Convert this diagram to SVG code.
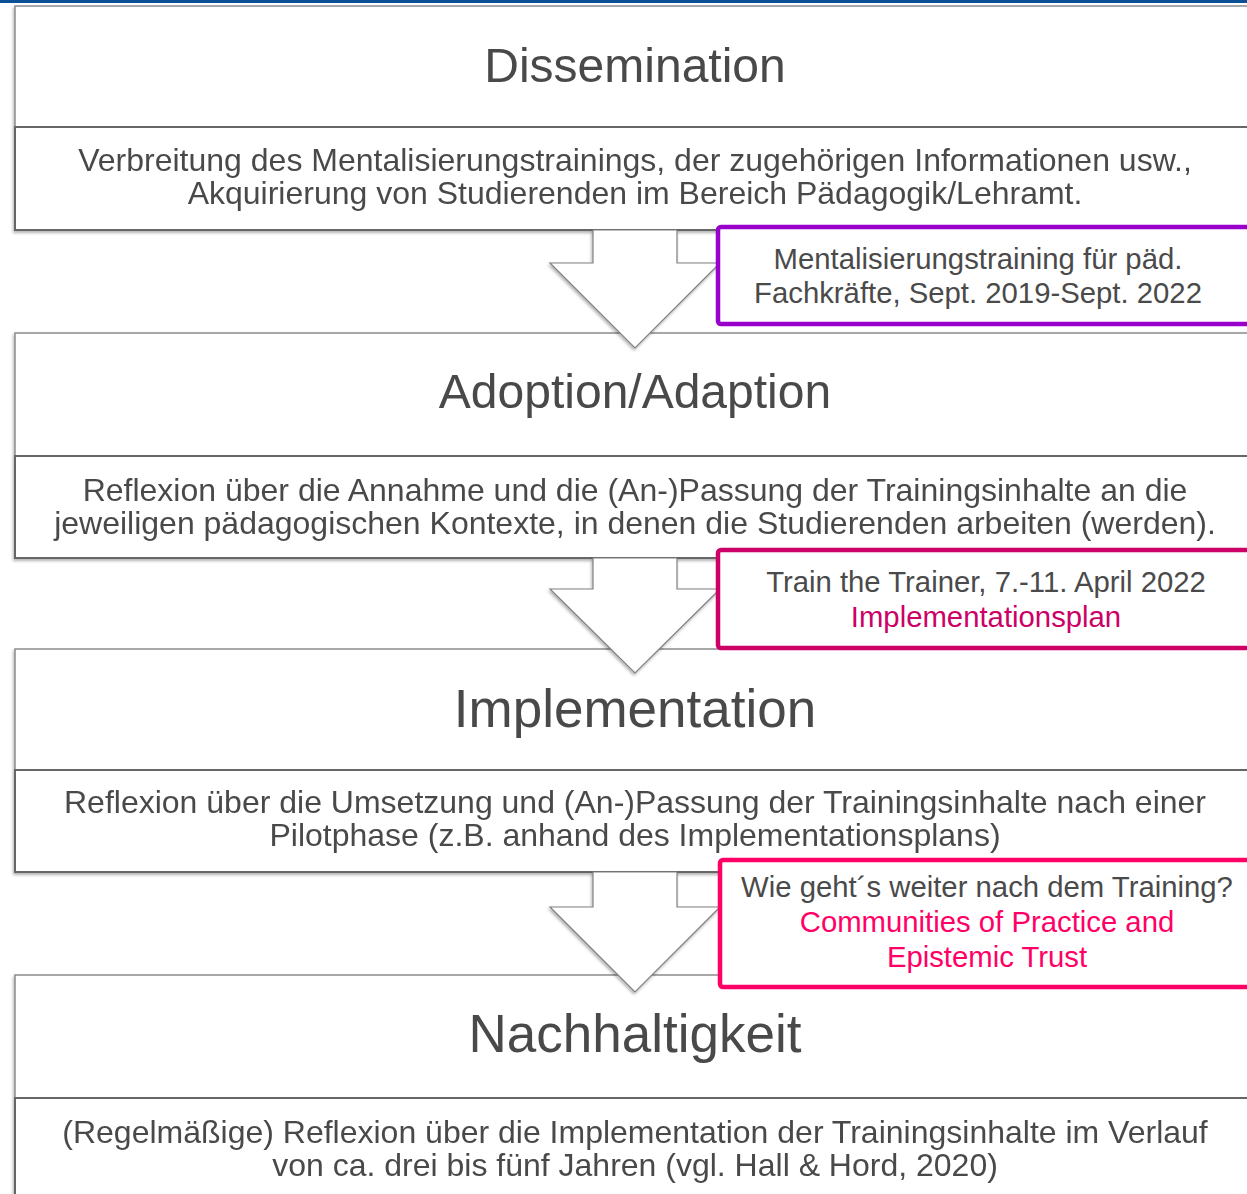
<svg xmlns="http://www.w3.org/2000/svg" width="1247" height="1194" viewBox="0 0 1247 1194">
<defs>
<filter id="sh" x="-10%" y="-10%" width="120%" height="130%">
<feDropShadow dx="-1" dy="2" stdDeviation="1.5" flood-color="#000" flood-opacity="0.3"/>
</filter>
<style>
.t{font-family:"Liberation Sans",Arial,sans-serif;fill:#4a4a4a;text-anchor:middle}
.title{font-size:48px}
.title2{font-size:53px}
.desc{font-size:32px}
.call{font-size:29.3px}
.hbox{fill:#fff;stroke:#8c8c8c;stroke-width:1.5}
.dbox{fill:#fff;stroke:#666;stroke-width:2}
.arrow{fill:#fff;stroke:#808080;stroke-width:1.2;filter:url(#sh)}
.cbox{fill:#fff;stroke-width:4.5}
</style>
</defs>
<rect x="0" y="0" width="1247" height="3" fill="#0b4f96"/>
<g id="dissemination" filter="url(#sh)">
<rect class="hbox" x="15" y="6" width="1260" height="121"/>
<rect class="dbox" x="15" y="127" width="1260" height="103"/>
<text class="t title" x="635" y="82">Dissemination</text>
<text class="t desc" x="635" y="171">Verbreitung des Mentalisierungstrainings, der zugehörigen Informationen usw.,</text>
<text class="t desc" x="635" y="204">Akquirierung von Studierenden im Bereich Pädagogik/Lehramt.</text>
</g>
<g id="adoption" filter="url(#sh)">
<rect class="hbox" x="15" y="333" width="1260" height="123"/>
<rect class="dbox" x="15" y="456" width="1260" height="102"/>
<text class="t title" x="635" y="408">Adoption/Adaption</text>
<text class="t desc" x="635" y="501">Reflexion über die Annahme und die (An-)Passung der Trainingsinhalte an die</text>
<text class="t desc" x="635" y="534">jeweiligen pädagogischen Kontexte, in denen die Studierenden arbeiten (werden).</text>
</g>
<g id="implementation" filter="url(#sh)">
<rect class="hbox" x="15" y="649" width="1260" height="121"/>
<rect class="dbox" x="15" y="770" width="1260" height="102"/>
<text class="t title2" x="635" y="727">Implementation</text>
<text class="t desc" x="635" y="813">Reflexion über die Umsetzung und (An-)Passung der Trainingsinhalte nach einer</text>
<text class="t desc" x="635" y="846">Pilotphase (z.B. anhand des Implementationsplans)</text>
</g>
<g id="nachhaltigkeit" filter="url(#sh)">
<rect class="hbox" x="15" y="975" width="1260" height="123"/>
<rect class="dbox" x="15" y="1098" width="1260" height="110"/>
<text class="t title2" x="635" y="1052">Nachhaltigkeit</text>
<text class="t desc" x="635" y="1143">(Regelmäßige) Reflexion über die Implementation der Trainingsinhalte im Verlauf</text>
<text class="t desc" x="635" y="1176">von ca. drei bis fünf Jahren (vgl. Hall &amp; Hord, 2020)</text>
</g>
<g id="connectors">
<path class="arrow" d="M593,230 L677,230 L677,263 L720,263 L635,348 L550,263 L593,263 Z"/>
<path class="arrow" d="M593,558 L677,558 L677,589 L720,589 L635,673 L550,589 L593,589 Z"/>
<path class="arrow" d="M593,872 L677,872 L677,907 L720,907 L635,992 L550,907 L593,907 Z"/>
</g>
<g id="callout1">
<rect class="cbox" x="718" y="227" width="560" height="97" rx="3" stroke="#9900cc"/>
<text class="t call" x="978" y="269">Mentalisierungstraining für päd.</text>
<text class="t call" x="978" y="303">Fachkräfte, Sept. 2019-Sept. 2022</text>
</g>
<g id="callout2">
<rect class="cbox" x="718" y="550" width="560" height="98" rx="3" stroke="#cc0066"/>
<text class="t call" x="986" y="592">Train the Trainer, 7.-11. April 2022</text>
<text class="t call" x="986" y="627" style="fill:#cc0066">Implementationsplan</text>
</g>
<g id="callout3">
<rect class="cbox" x="720" y="860" width="560" height="127" rx="3" stroke="#ff0066"/>
<text class="t call" x="987" y="897">Wie geht´s weiter nach dem Training?</text>
<text class="t call" x="987" y="932" style="fill:#ff0066">Communities of Practice and</text>
<text class="t call" x="987" y="967" style="fill:#ff0066">Epistemic Trust</text>
</g>
</svg>
